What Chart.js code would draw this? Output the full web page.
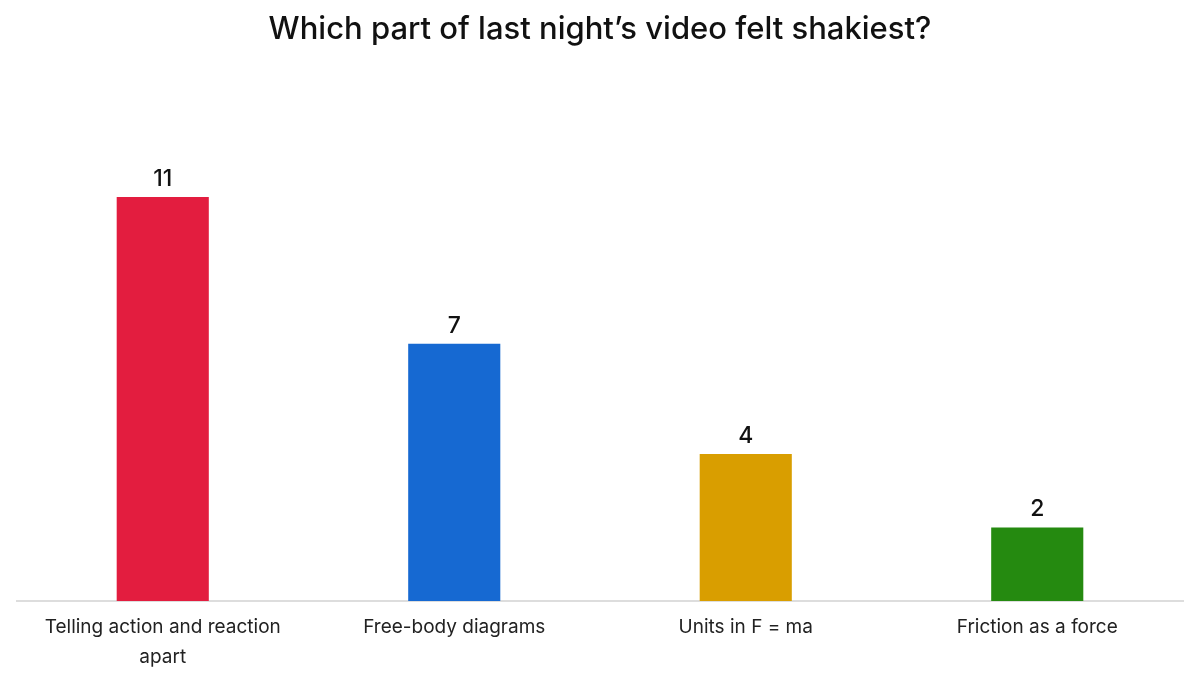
<!DOCTYPE html>
<html>
<head>
<meta charset="utf-8">
<script src="https://cdn.jsdelivr.net/npm/chart.js@4"></script>
<style>
  html, body { margin: 0; padding: 0; background: #ffffff; }
  #wrap { width: 1200px; height: 682px; position: relative; }
</style>
</head>
<body>
<div id="wrap"><canvas id="chart"></canvas></div>
<script>
// Chart data
const chartTitle = 'Which part of last night\u2019s video felt shakiest?';
const categories = [
    ['Telling action and reaction', 'apart'],
    'Free-body diagrams',
    'Units in F = ma',
    'Friction as a force'
];
const responses = [11, 7, 4, 2];
const barColors = ['#E31D3F', '#1669D2', '#D99E00', '#258A10'];
const yMax = 12;

// Draw the count above each bar
const valueLabels = {
    id: 'valueLabels',
    afterDatasetsDraw(chart) {
        const ctx = chart.ctx;
        const meta = chart.getDatasetMeta(0);
        ctx.save();
        ctx.fillStyle = '#111111';
        ctx.font = '500 23px Inter, "DejaVu Sans", sans-serif';
        ctx.textAlign = 'center';
        ctx.textBaseline = 'middle';
        meta.data.forEach((bar, i) => {
            ctx.fillText(String(responses[i]), bar.x, bar.y - 18);
        });
        ctx.restore();
    }
};

new Chart(document.getElementById('chart'), {
    type: 'bar',
    data: {
        labels: categories,
        datasets: [{
            data: responses,
            backgroundColor: barColors,
            borderWidth: 0,
            categoryPercentage: 1,
            barPercentage: 0.316
        }]
    },
    options: {
        responsive: true,
        maintainAspectRatio: false,
        animation: false,
        layout: { padding: { left: 17, right: 17, top: 0, bottom: 7 } },
        plugins: {
            legend: { display: false },
            tooltip: { enabled: false },
            title: {
                display: true,
                text: chartTitle,
                color: '#111111',
                font: { family: 'Inter', size: 31, weight: '500' },
                padding: { top: 11, bottom: 112 }
            }
        },
        scales: {
            x: {
                grid: { display: false },
                border: { display: true, color: '#dddddd', width: 2 },
                ticks: {
                    color: '#222222',
                    font: { family: 'Inter', size: 19, lineHeight: 1.58 },
                    padding: 3,
                    maxRotation: 0,
                    autoSkip: false
                }
            },
            y: {
                display: false,
                min: 0,
                max: yMax
            }
        }
    },
    plugins: [valueLabels]
});
</script>
</body>
</html>
